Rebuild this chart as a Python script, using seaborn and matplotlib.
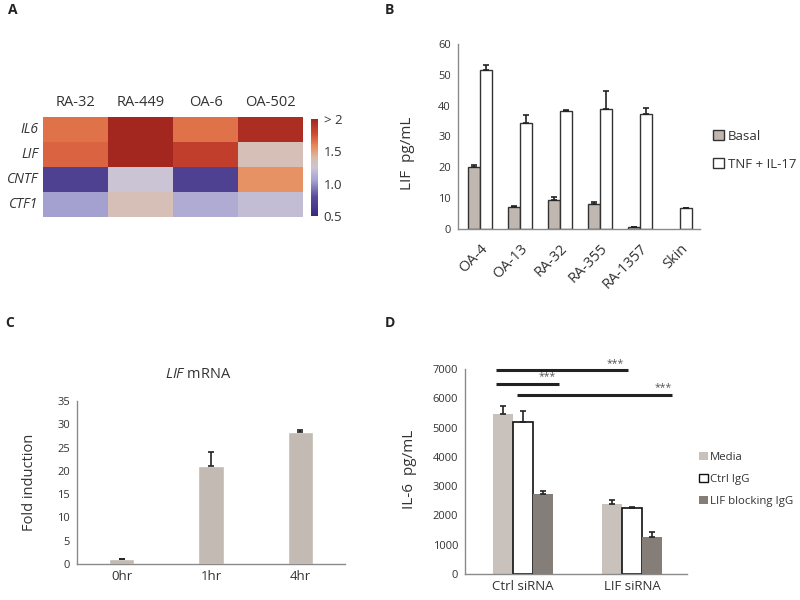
import numpy as np
import pandas as pd
import seaborn as sns
import matplotlib.pyplot as plt
from matplotlib.colors import LinearSegmentedColormap
from matplotlib.patches import Patch

# ---- dados ----
# A: heatmap (fold change)
hm_samples = ['RA-32', 'RA-449', 'OA-6', 'OA-502']
hm_genes = ['IL6', 'LIF', 'CNTF', 'CTF1']
il6_fold = [1.65, 2.0, 1.65, 1.95]
lif_fold = [1.7, 2.0, 1.85, 1.35]
cntf_fold = [0.7, 1.25, 0.7, 1.55]
ctf1_fold = [1.05, 1.35, 1.1, 1.2]

# B: LIF pg/mL
b_samples = ['OA-4', 'OA-13', 'RA-32', 'RA-355', 'RA-1357', 'Skin']
b_basal = [20.0, 7.0, 9.5, 8.0, 0.5, np.nan]
b_basal_err = [0.8, 0.3, 1.0, 0.8, 0.1, np.nan]
b_tnf = [51.5, 34.3, 38.3, 39.0, 37.3, 6.7]
b_tnf_err = [1.8, 2.8, 0.3, 5.8, 2.0, 0.0]

# C: LIF mRNA
c_times = ['0hr', '1hr', '4hr']
c_fold = [1.0, 21.0, 28.3]
c_err = [0.15, 3.0, 0.5]

# D: IL-6 pg/mL
d_groups = ['Ctrl siRNA', 'LIF siRNA']
d_treat = ['Media', 'Ctrl IgG', 'LIF blocking IgG']
d_media = [5450, 2380]
d_media_err = [280, 150]
d_ctrl = [5200, 2260]
d_ctrl_err = [380, 30]
d_lif = [2730, 1270]
d_lif_err = [100, 150]

sns.set_style('white')
plt.rcParams['font.family'] = ['Open Sans', 'DejaVu Sans']
plt.rcParams['mathtext.fontset'] = 'custom'
plt.rcParams['mathtext.rm'] = 'Open Sans'
plt.rcParams['mathtext.it'] = 'Open Sans:italic'
txt = '#333333'
spine_c = '#8a8a8a'

fig = plt.figure(figsize=(8, 6), dpi=100)


def ax_px(x0, y0, x1, y1):
    # caixa em pixels -> fração da figura
    return fig.add_axes([x0 / 800, 1 - y1 / 600, (x1 - x0) / 800, (y1 - y0) / 600])


def estilo(ax):
    for s in ['top', 'right']:
        ax.spines[s].set_visible(False)
    for s in ['left', 'bottom']:
        ax.spines[s].set_color(spine_c)
        ax.spines[s].set_linewidth(1)
    ax.tick_params(axis='y', length=3, color=spine_c, labelsize=8, labelcolor=txt, pad=2)
    ax.tick_params(axis='x', length=0, labelcolor=txt)


def barras_erro(ax, erros):
    for cont, errs in zip(ax.containers, erros):
        for bar in cont:
            h = bar.get_height()
            if np.isnan(h):
                continue
            cx = bar.get_x() + bar.get_width() / 2
            i = int(round(cx))
            e = errs[i]
            if np.isnan(e):
                continue
            ax.errorbar(cx, h, yerr=[[0], [e]], fmt='none', ecolor='#222222',
                        elinewidth=1.2, capsize=2.5, capthick=1.2, zorder=5)


# ---- A: heatmap ----
hm = pd.DataFrame([il6_fold, lif_fold, cntf_fold, ctf1_fold], index=hm_genes, columns=hm_samples)
cmap = LinearSegmentedColormap.from_list('hm', [
    (0.0, '#3a2a7c'), (0.2, '#5a4c9c'), (0.37, '#a6a4d2'), (0.5, '#cbc4d6'),
    (0.6, '#d9bca8'), (0.72, '#e98a58'), (0.85, '#d04a32'), (1.0, '#a3261f')])
axA = ax_px(43, 117, 303, 217)
cax = ax_px(311, 119, 318, 216)
sns.heatmap(hm, ax=axA, cbar_ax=cax, cmap=cmap, vmin=0.5, vmax=2)
axA.xaxis.tick_top()
axA.tick_params(length=0, labelcolor=txt)
axA.tick_params(axis='x', pad=5)
axA.set_xticklabels(hm_samples, fontsize=10.5)
axA.set_yticklabels(hm_genes, fontsize=10, style='italic', rotation=0)
axA.set_xlabel('')
axA.set_ylabel('')
cax.set_yticks([0.5, 1.0, 1.5, 2.0])
cax.set_yticklabels(['0.5', '1.0', '1.5', '> 2'])
cax.tick_params(length=0, labelsize=9.5, labelcolor=txt, pad=4)

# ---- B ----
dfB = pd.DataFrame({
    'amostra': b_samples * 2,
    'cond': ['Basal'] * len(b_samples) + ['TNF + IL-17'] * len(b_samples),
    'lif': b_basal + b_tnf,
})
axB = ax_px(458, 44, 700, 229)
sns.barplot(data=dfB, x='amostra', y='lif', hue='cond', hue_order=['Basal', 'TNF + IL-17'],
            palette=['#c2b7ae', 'white'], width=0.6, errorbar=None, ax=axB,
            edgecolor='#333333', linewidth=1, legend=False)
barras_erro(axB, [b_basal_err, b_tnf_err])
axB.set_xlim(-0.55, 5.5)
axB.set_ylim(0, 60)
axB.set_yticks(range(0, 61, 10))
estilo(axB)
axB.set_xticks(range(len(b_samples)))
axB.set_xticklabels(b_samples, rotation=45, ha='right', rotation_mode='anchor', fontsize=10.5)
axB.tick_params(axis='x', pad=9)
axB.set_xlabel('')
axB.set_ylabel('LIF  pg/mL', fontsize=11, color=txt)
axB.yaxis.set_label_coords(-0.178, 0.41)
fig.legend(handles=[Patch(facecolor='#c2b7ae', edgecolor='#333333', label='Basal'),
                    Patch(facecolor='white', edgecolor='#333333', label='TNF + IL-17')],
           loc='upper left', bbox_to_anchor=(713 / 800, 1 - 130 / 600), frameon=False,
           fontsize=9.5, handlelength=0.8, handleheight=0.8, handletextpad=0.3,
           labelspacing=1.1, borderpad=0, borderaxespad=0, labelcolor=txt)

# ---- C ----
dfC = pd.DataFrame({'tempo': c_times, 'fold': c_fold})
axC = ax_px(77, 401, 345, 564)
sns.barplot(data=dfC, x='tempo', y='fold', color='#c2bab3', width=0.28, errorbar=None,
            ax=axC, saturation=1)
barras_erro(axC, [c_err])
axC.set_xlim(-0.5, 2.5)
axC.set_ylim(0, 35)
axC.set_yticks(range(0, 36, 5))
estilo(axC)
axC.tick_params(axis='x', labelsize=9.5, pad=4)
axC.set_xlabel('')
axC.set_ylabel('Fold induction', fontsize=10.5, color=txt)
axC.yaxis.set_label_coords(-0.149, 0.5)
fig.text(198 / 800, 1 - 374 / 600, r'$\it{LIF}$ mRNA', ha='center', va='center',
         fontsize=10.5, color=txt)

# ---- D ----
dfD = pd.DataFrame({
    'grupo': d_groups * 3,
    'trat': [t for t in d_treat for _ in d_groups],
    'il6': d_media + d_ctrl + d_lif,
})
axD = ax_px(465, 369, 687, 574)
sns.barplot(data=dfD, x='grupo', y='il6', hue='trat', hue_order=d_treat,
            palette=['#c9c1bc', 'white', '#857d78'], width=0.55, errorbar=None, ax=axD,
            saturation=1, legend=False)
for cont, ec in zip(axD.containers, ['none', '#111111', 'none']):
    for bar in cont:
        bar.set_edgecolor(ec)
        bar.set_linewidth(1.2)
barras_erro(axD, [d_media_err, d_ctrl_err, d_lif_err])
axD.set_xlim(-0.53, 1.5)
axD.set_ylim(0, 7000)
axD.set_yticks(range(0, 7001, 1000))
estilo(axD)
axD.tick_params(axis='x', labelsize=9.5, pad=4)
axD.set_xlabel('')
axD.set_ylabel('IL-6  pg/mL', fontsize=11, color=txt)
axD.yaxis.set_label_coords(-0.216, 0.51)

# linhas de significância
sig_y = [6950, 6490, 6110]
sig_x0 = [-0.25, -0.25, -0.055]
sig_x1 = [0.96, 0.33, 1.36]
sig_star = [0.84, 0.22, 1.28]
for y, x0, x1, xs in zip(sig_y, sig_x0, sig_x1, sig_star):
    axD.plot([x0, x1], [y, y], color='#222222', lw=2.2, clip_on=False, solid_capstyle='butt')
    axD.text(xs, y + 60, '***', ha='center', va='bottom', fontsize=7.5, color='#555555')

fig.legend(handles=[Patch(facecolor='#c9c1bc', edgecolor='none', label='Media'),
                    Patch(facecolor='white', edgecolor='#111111', label='Ctrl IgG'),
                    Patch(facecolor='#857d78', edgecolor='none', label='LIF blocking IgG')],
           loc='upper left', bbox_to_anchor=(699 / 800, 1 - 452 / 600), frameon=False,
           fontsize=8.2, handlelength=0.75, handleheight=0.75, handletextpad=0.2,
           labelspacing=0.95, borderpad=0, borderaxespad=0, labelcolor=txt)

# letras dos painéis
for lab, x, y in [('A', 8, 10), ('B', 385, 10), ('C', 5, 323), ('D', 385, 323)]:
    fig.text(x / 800, 1 - y / 600, lab, fontsize=10, fontweight='bold', ha='left',
             va='center', color='#222222')

fig.savefig('out.png', dpi=100)
